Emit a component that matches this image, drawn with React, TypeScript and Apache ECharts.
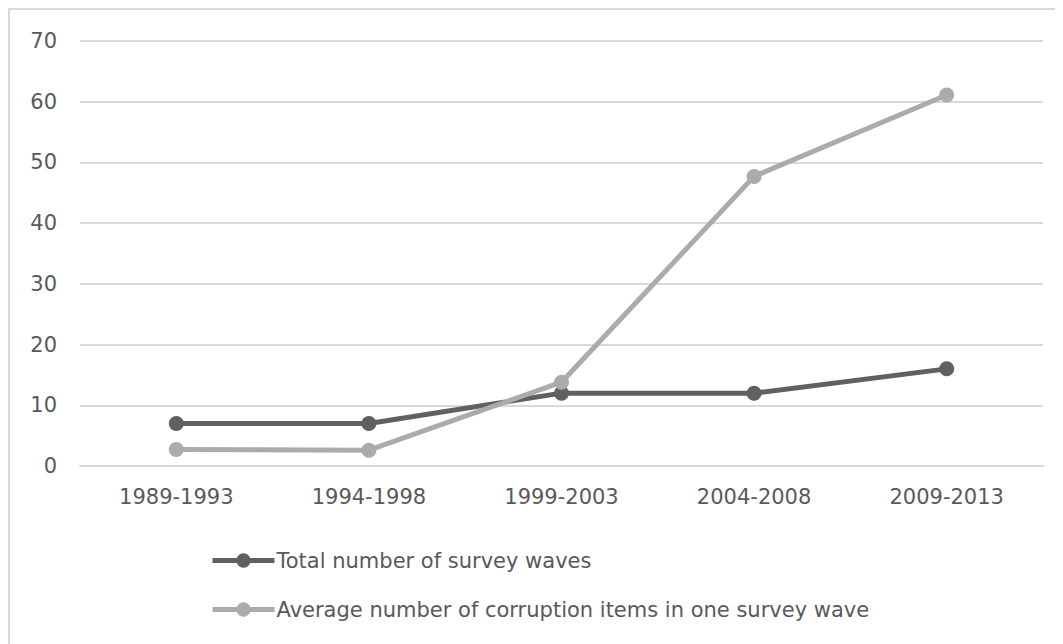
import React, { useEffect, useRef } from "react";
import * as echarts from "echarts";

const categories = ["1989-1993", "1994-1998", "1999-2003", "2004-2008", "2009-2013"];
const totalWaves = [7, 7, 12, 12, 16];
const avgItems = [2.7, 2.6, 13.8, 47.7, 61.1];
const seriesNames = [
  "Total number of survey waves",
  "Average number of corruption items in one survey wave",
];

export default function App() {
  const ref = useRef<HTMLDivElement>(null);
  useEffect(() => {
    if (!ref.current) return;
    const chart = echarts.init(ref.current, null, { renderer: "svg" });
    const font = "'DejaVu Sans', sans-serif";
    chart.setOption({
      animation: false,
      backgroundColor: "#ffffff",
      textStyle: { fontFamily: font },
      grid: { left: 70, right: 20, top: 31, bottom: 178, containLabel: false },
      legend: {
        orient: "vertical",
        left: 195,
        top: 535,
        itemWidth: 62,
        itemHeight: 18,
        itemGap: 28,
        data: seriesNames,
        lineStyle: { width: 5 },
        textStyle: { color: "#595959", fontSize: 21, fontFamily: font, padding: [0, 0, 0, -3] },
      },
      xAxis: {
        type: "category",
        data: categories,
        boundaryGap: true,
        axisLine: { lineStyle: { color: "#d9d9d9", width: 2 } },
        axisTick: { show: false },
        axisLabel: { color: "#595959", fontSize: 21, fontFamily: font, margin: 20 },
      },
      yAxis: {
        type: "value",
        min: 0,
        max: 70,
        interval: 10,
        axisLine: { show: false },
        axisTick: { show: false },
        splitLine: { lineStyle: { color: "#d9d9d9", width: 2 } },
        axisLabel: { color: "#595959", fontSize: 21, fontFamily: font, margin: 23 },
      },
      series: [
        {
          name: seriesNames[0],
          type: "line",
          data: totalWaves,
          symbol: "circle",
          symbolSize: 15,
          lineStyle: { color: "#606060", width: 5 },
          itemStyle: { color: "#606060" },
        },
        {
          name: seriesNames[1],
          type: "line",
          data: avgItems,
          symbol: "circle",
          symbolSize: 15,
          lineStyle: { color: "#ababab", width: 5 },
          itemStyle: { color: "#ababab" },
        },
      ],
    });
    return () => chart.dispose();
  }, []);
  return (
    <div
      style={{
        width: 1055,
        height: 636,
        borderTop: "2px solid #d9d9d9",
        borderLeft: "2px solid #d9d9d9",
        boxSizing: "border-box",
        overflow: "hidden",
      }}
    >
      <div ref={ref} style={{ width: 1053, height: 634 }} />
    </div>
  );
}
